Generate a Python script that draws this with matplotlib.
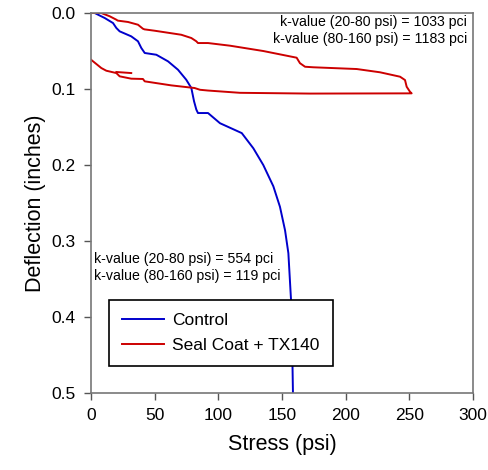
import matplotlib
matplotlib.use("Agg")
import matplotlib.pyplot as plt
import numpy as np

plt.rcParams['font.family'] = ['Liberation Sans', 'DejaVu Sans']

# Control series (stress psi, deflection in)
control_stress = [0, 2.9, 10.8, 17.3, 19.9, 22.5, 31.6, 36.9, 39.5, 42.2, 51.3, 60.5,
                  68.3, 74.8, 78.8, 80.9, 82.7, 84.0, 91.9, 101.3, 118.4, 127.5, 135.3,
                  143.2, 148.4, 152.4, 155.0, 157.1, 157.9, 158.6]
control_defl = [0, 0, 0.0066, 0.0132, 0.0197, 0.0241, 0.0307, 0.0372, 0.046, 0.0526, 0.0549,
                0.0636, 0.0746, 0.0878, 0.0987, 0.116, 0.127, 0.1316, 0.1316, 0.145, 0.158,
                0.178, 0.200, 0.228, 0.255, 0.286, 0.316, 0.378, 0.430, 0.500]

# Seal Coat + TX140 series: loading then unloading
seal_stress = [0.2, 8.1, 14.7, 19.9, 21.0, 29.1, 36.9, 40.8, 42.0, 50.0, 70.9, 78.8, 82.7,
               84.0, 91.9, 109.2, 135.3, 161.5, 164.1, 168.1, 174.6, 208.7, 227.0, 242.7,
               246.6, 247.9, 250.5, 251.8,
               172.0, 117.0, 91.9, 85.6, 81.4, 63.0, 42.2, 40.8, 31.6, 22.5, 19.9,
               12.0, 8.1, 0.0]
seal_defl = [0, 0, 0.0043, 0.0088, 0.0100, 0.0118, 0.0154, 0.0207, 0.0215, 0.0233, 0.0286,
             0.0329, 0.0372, 0.0395, 0.0395, 0.043, 0.050, 0.0588, 0.066, 0.0707, 0.0714,
             0.0737, 0.078, 0.0838, 0.0882, 0.097, 0.1036, 0.1057,
             0.1060, 0.1050, 0.1020, 0.101, 0.0987, 0.0952, 0.0899, 0.0868, 0.0864,
             0.0833, 0.079, 0.0759, 0.0724, 0.0614]
# short reload stub
stub_stress = [19.9, 31.6]
stub_defl = [0.0776, 0.079]

xticks = [0, 50, 100, 150, 200, 250, 300]
yticks = [0.0, 0.1, 0.2, 0.3, 0.4, 0.5]

fig = plt.figure(figsize=(4.89, 4.70), dpi=100)
ax = fig.add_axes([0.1861, 0.1638, 0.7812, 0.8085])

blue = '#0000CC'
red = '#CC0000'
ax.plot(control_stress, control_defl, color=blue, lw=1.4, label='Control')
ax.plot(seal_stress, seal_defl, color=red, lw=1.4, label='Seal Coat + TX140')
ax.plot(stub_stress, stub_defl, color=red, lw=1.4)

ax.set_xlim(0, 300)
ax.set_ylim(0.5, 0.0)
ax.set_xticks(xticks)
ax.set_yticks(yticks)
ax.set_xticklabels([str(t) for t in xticks])
ax.set_yticklabels([f"{t:.1f}" for t in yticks])
ax.tick_params(labelsize=12.5, direction='out', length=5, width=1, color='#555555', pad=6)

for s in ax.spines.values():
    s.set_color('#777777')
    s.set_linewidth(1.2)

ax.set_xlabel('Stress (psi)', fontsize=15.5, labelpad=8)
ax.set_ylabel('Deflection (inches)', fontsize=15.5, labelpad=4)

ax.text(0.985, 0.995, 'k-value (20-80 psi) = 1033 pci\nk-value (80-160 psi) = 1183 pci',
        transform=ax.transAxes, ha='right', va='top', fontsize=10.2, linespacing=1.25)
ax.text(0.008, 0.37, 'k-value (20-80 psi) = 554 pci\nk-value (80-160 psi) = 119 pci',
        transform=ax.transAxes, ha='left', va='top', fontsize=10.2, linespacing=1.25)

leg = ax.legend(loc='upper left', bbox_to_anchor=(0.047, 0.2447), borderaxespad=0,
                fontsize=12.5, frameon=True, fancybox=False, edgecolor='black',
                handlelength=2.4, handletextpad=0.5, borderpad=0.75, labelspacing=0.55)
leg.get_frame().set_linewidth(1.2)
leg.get_frame().set_alpha(1)

fig.savefig('out.png', dpi=100)
